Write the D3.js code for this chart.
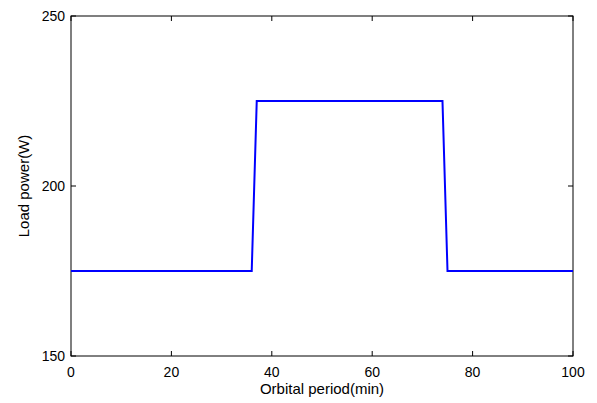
<!DOCTYPE html>
<html>
<head>
<meta charset="utf-8">
<script src="https://cdn.jsdelivr.net/npm/d3@7"></script>
<style>
  body { margin: 0; background: #fff; }
  text { font-family: "Liberation Sans", Arial, sans-serif; font-size: 15px; fill: #000; }
  .tick-label { font-size: 14px; }
</style>
</head>
<body>
<svg id="chart" width="597" height="403"></svg>
<script>
var width = 597,
    height = 403;

// orbital period (min) and load power (W)
var time_min = [0, 36, 37, 74, 75, 100];
var load_w = [175, 175, 225, 225, 175, 175];
var x_ticks = [0, 20, 40, 60, 80, 100];
var y_ticks = [150, 200, 250];

var margin = { left: 71, right: 24, top: 16, bottom: 47 };
var x0 = margin.left, x1 = width - margin.right;
var y0 = height - margin.bottom, y1 = margin.top;

var x = d3.scaleLinear().domain([0, 100]).range([x0, x1]);
var y = d3.scaleLinear().domain([150, 250]).range([y0, y1]);

var svg = d3.select("#chart");

// box with inward ticks on every side
var tick = 5;
var g_axes = svg.append("g").attr("stroke", "#000").attr("stroke-width", 1).attr("fill", "none");
g_axes.append("rect")
    .attr("x", x0).attr("y", y1)
    .attr("width", x1 - x0).attr("height", y0 - y1);

x_ticks.forEach(function (t) {
    g_axes.append("line").attr("x1", x(t)).attr("x2", x(t)).attr("y1", y0).attr("y2", y0 - tick);
    g_axes.append("line").attr("x1", x(t)).attr("x2", x(t)).attr("y1", y1).attr("y2", y1 + tick);
});
y_ticks.forEach(function (t) {
    g_axes.append("line").attr("x1", x0).attr("x2", x0 + tick).attr("y1", y(t)).attr("y2", y(t));
    g_axes.append("line").attr("x1", x1).attr("x2", x1 - tick).attr("y1", y(t)).attr("y2", y(t));
});

// tick labels
svg.append("g").selectAll("text")
    .data(x_ticks)
    .join("text")
    .attr("class", "tick-label")
    .attr("x", function (d) { return x(d); })
    .attr("y", y0 + 21)
    .attr("text-anchor", "middle")
    .text(function (d) { return d; });

svg.append("g").selectAll("text")
    .data(y_ticks)
    .join("text")
    .attr("class", "tick-label")
    .attr("x", x0 - 6)
    .attr("y", function (d) { return y(d) + 5; })
    .attr("text-anchor", "end")
    .text(function (d) { return d; });

// axis titles
svg.append("text")
    .attr("x", (x0 + x1) / 2)
    .attr("y", y0 + 38)
    .attr("text-anchor", "middle")
    .text("Orbital period(min)");

svg.append("text")
    .attr("transform", "translate(29," + ((y0 + y1) / 2) + ") rotate(-90)")
    .attr("text-anchor", "middle")
    .text("Load power(W)");

// load curve
var line = d3.line()
    .x(function (d, i) { return x(time_min[i]); })
    .y(function (d) { return y(d); });

svg.append("path")
    .datum(load_w)
    .attr("d", line)
    .attr("fill", "none")
    .attr("stroke", "#0000ff")
    .attr("stroke-width", 2);
</script>
</body>
</html>
